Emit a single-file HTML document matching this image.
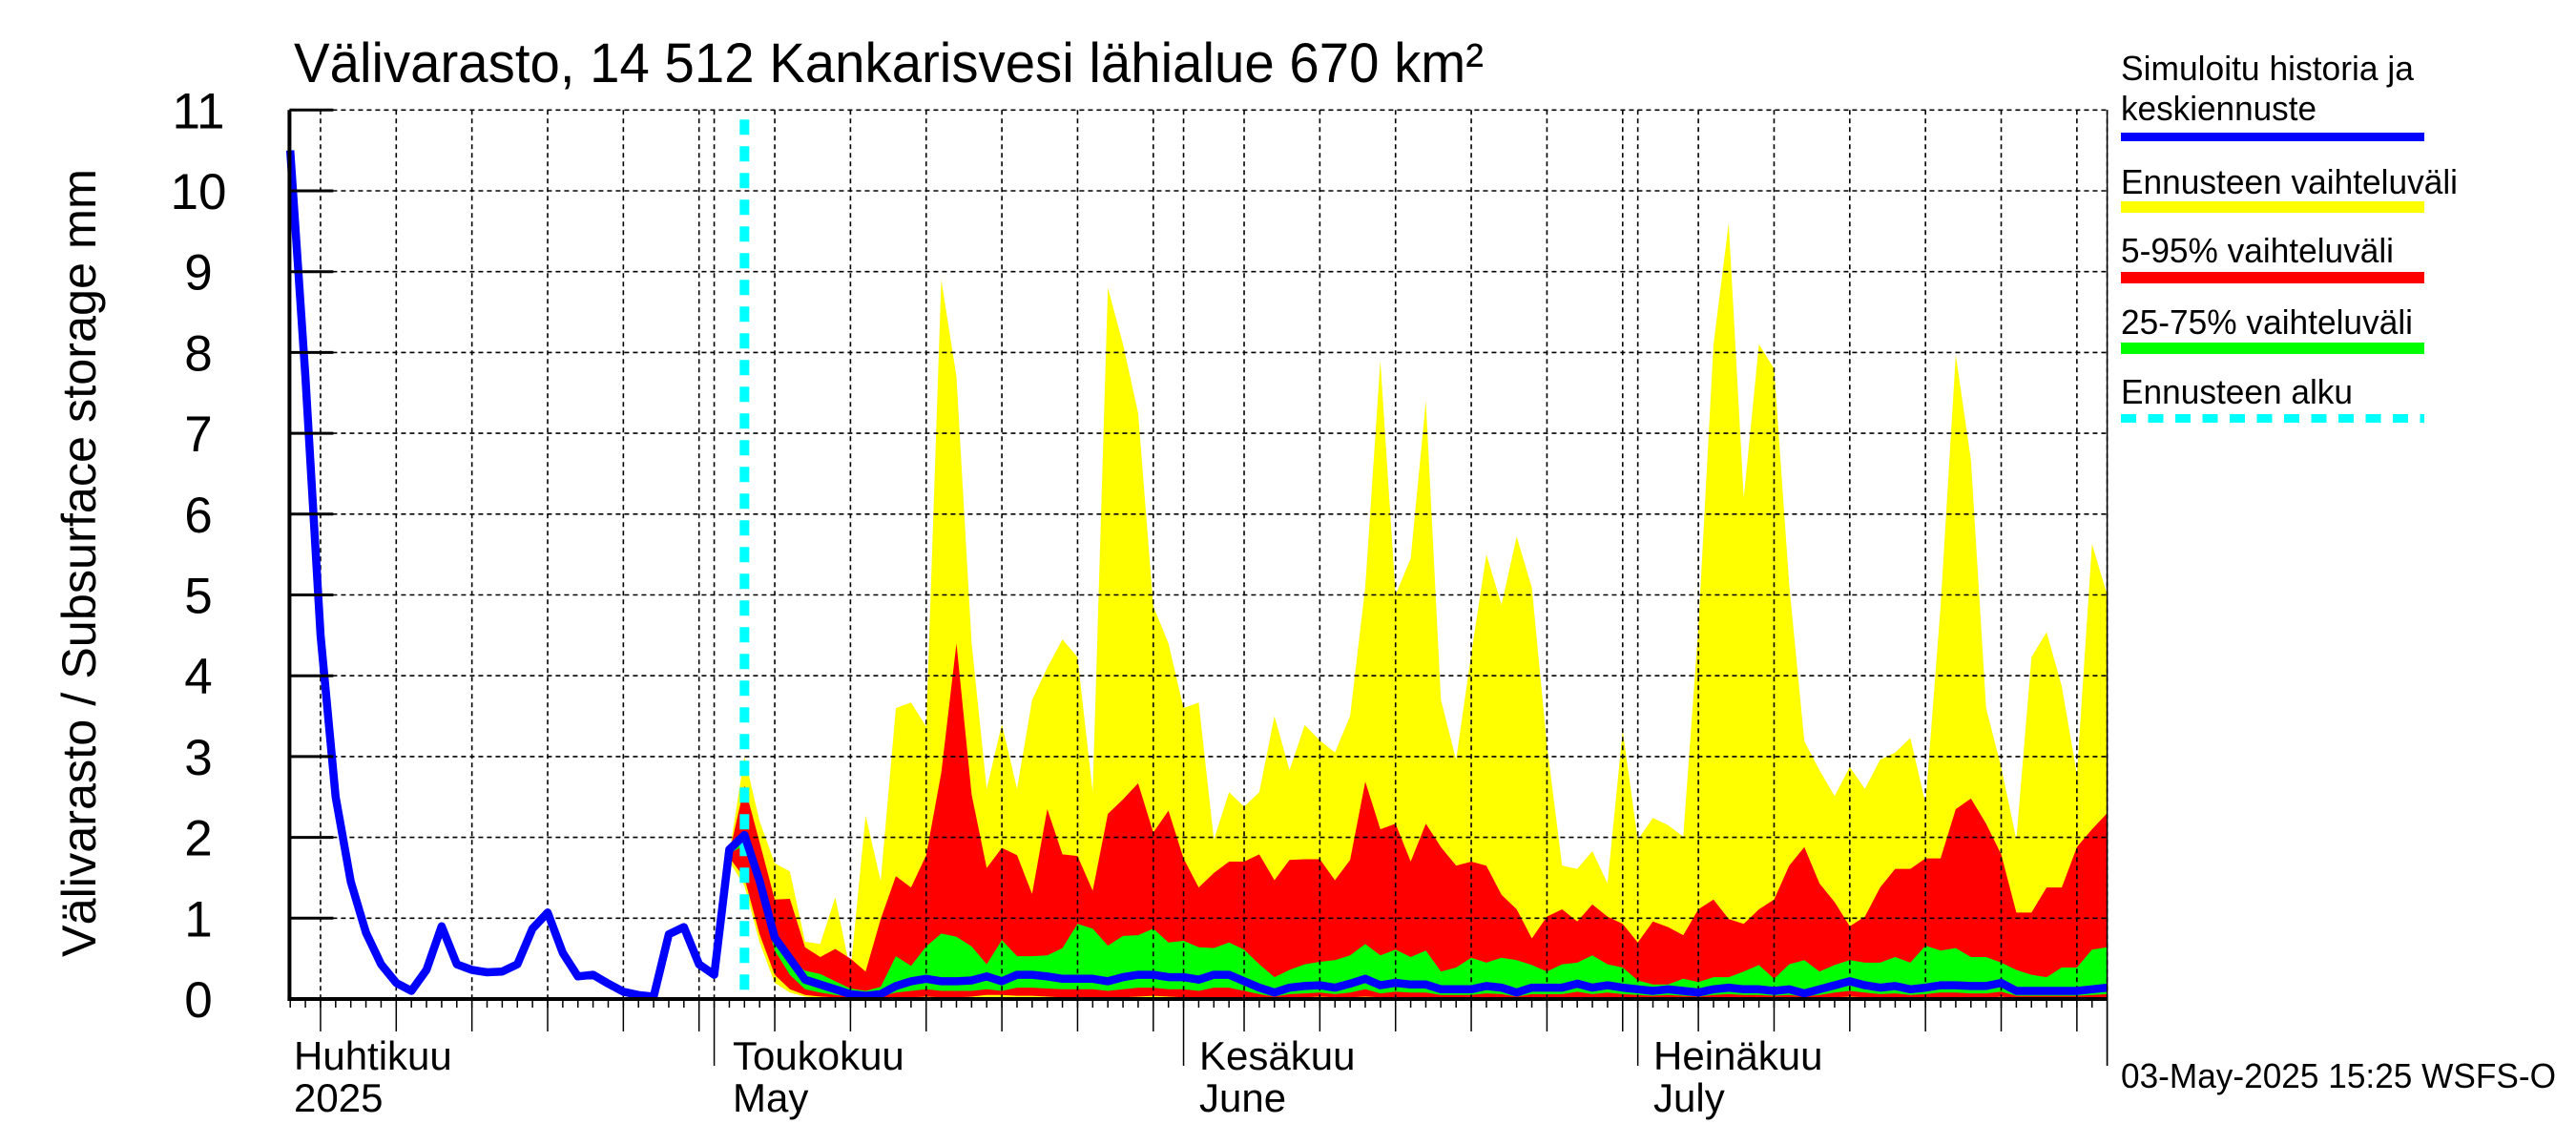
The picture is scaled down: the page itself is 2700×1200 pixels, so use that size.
<!DOCTYPE html>
<html><head><meta charset="utf-8"><title>Välivarasto</title>
<style>html,body{margin:0;padding:0;background:#fff;}svg{display:block;}</style></head>
<body>
<svg id="chart" width="2700" height="1200" viewBox="0 0 2700 1200" xmlns="http://www.w3.org/2000/svg" font-family="'Liberation Sans', Arial, sans-serif">
<rect width="2700" height="1200" fill="#fff"/>
<g id="bands"></g>
<g id="grid"></g>
<g id="lines"></g>
<g id="axes"></g>
<g id="labels"></g>
<g id="legend"></g>
</svg>
<script>
// ---- data (day index: 1 = 1 April 2025) ----
const historyStartDay = 3;
const blueValues = [10.5,7.7,4.5,2.5,1.45,0.82,0.43,0.2,0.1,0.36,0.9,0.43,0.36,0.33,0.34,0.43,0.87,1.07,0.57,0.28,0.3,0.19,0.09,0.05,0.03,0.8,0.89,0.43,0.3,1.85,
2.03,1.46,0.76,0.5,0.24,0.18,0.12,0.06,0.04,0.06,0.16,0.22,0.25,0.22,0.22,0.23,0.28,0.22,0.3,0.3,0.28,0.25,0.25,0.25,0.22,0.27,0.3,0.3,0.27,0.27,0.24,0.3,0.3,0.22,0.14,0.08,0.14,0.16,0.17,0.14,0.19,0.25,0.17,0.2,0.18,0.18,0.12,0.12,0.12,0.16,0.14,0.08,0.14,0.14,0.14,0.19,0.14,0.17,0.14,0.12,0.1,0.12,0.1,0.08,0.12,0.14,0.12,0.12,0.1,0.12,0.07,0.12,0.17,0.22,0.17,0.14,0.16,0.12,0.14,0.17,0.17,0.16,0.16,0.2,0.1,0.1,0.1,0.1,0.1,0.12,0.14];
const bandStartDay = 32;
const yellowHi = [1.8,3.0,2.2,1.68,1.58,0.71,0.68,1.26,0.34,2.27,1.46,3.6,3.67,3.37,8.9,7.7,4.4,2.6,3.4,2.6,3.7,4.1,4.45,4.23,2.56,8.8,8.1,7.25,4.86,4.4,3.6,3.67,1.97,2.56,2.38,2.56,3.5,2.83,3.39,3.2,3.05,3.5,5.1,7.9,5.0,5.45,7.4,3.7,2.96,4.27,5.5,4.88,5.72,5.09,3.14,1.65,1.61,1.83,1.43,3.32,1.97,2.24,2.15,2.01,4.59,8.1,9.6,6.2,8.1,7.8,5.13,3.19,2.83,2.51,2.87,2.6,2.96,3.05,3.23,2.42,4.86,7.97,6.67,3.6,2.87,1.97,4.23,4.54,3.87,2.78,5.63,5.0];
const yellowLo = [1.7,1.4,0.7,0.2,0.08,0.03,0.01,0,0,0,0,0,0,0,0,0,0,0,0,0,0,0,0,0,0,0,0,0,0,0,0,0,0,0,0,0,0,0,0,0,0,0,0,0,0,0,0,0,0,0,0,0,0,0,0,0,0,0,0,0,0,0,0,0,0,0,0,0,0,0,0,0,0,0,0,0,0,0,0,0,0,0,0,0,0,0,0,0,0,0,0,0];
const redHi = [1.8,2.64,1.94,1.23,1.24,0.64,0.52,0.62,0.5,0.34,0.99,1.52,1.38,1.78,2.8,4.4,2.53,1.62,1.87,1.78,1.3,2.35,1.79,1.77,1.34,2.29,2.47,2.67,2.06,2.33,1.74,1.38,1.56,1.7,1.7,1.79,1.47,1.72,1.73,1.73,1.47,1.72,2.69,2.1,2.17,1.7,2.17,1.88,1.65,1.7,1.65,1.29,1.11,0.75,1.02,1.11,0.96,1.17,1.02,0.93,0.7,0.96,0.89,0.79,1.11,1.23,0.99,0.93,1.11,1.23,1.65,1.88,1.43,1.2,0.9,1.02,1.38,1.61,1.61,1.74,1.74,2.35,2.48,2.17,1.79,1.07,1.07,1.38,1.38,1.88,2.1,2.3];
const redLo = [1.75,1.5,0.8,0.3,0.12,0.05,0.03,0.02,0.01,0.01,0.01,0.02,0.02,0.03,0.02,0.02,0.03,0.05,0.05,0.04,0.04,0.03,0.02,0.02,0.02,0.02,0.02,0.03,0.04,0.03,0.02,0.01,0.01,0.01,0.01,0.01,0.01,0.01,0.02,0.03,0.02,0.02,0.03,0.02,0.02,0.02,0.02,0.01,0.01,0.01,0.02,0.02,0.01,0.01,0.01,0.01,0.02,0.01,0.02,0.01,0.01,0.01,0.01,0.01,0.01,0.01,0.02,0.01,0.01,0.01,0.01,0.01,0.01,0.02,0.03,0.02,0.02,0.02,0.01,0.02,0.02,0.02,0.02,0.01,0.03,0.01,0.01,0.01,0.01,0.01,0.01,0.02];
const greenHi = [1.8,2.05,1.4,0.83,0.5,0.35,0.31,0.22,0.13,0.1,0.15,0.53,0.41,0.65,0.81,0.77,0.65,0.43,0.73,0.53,0.53,0.54,0.63,0.93,0.87,0.66,0.78,0.79,0.87,0.7,0.72,0.64,0.63,0.7,0.61,0.43,0.27,0.36,0.43,0.46,0.48,0.54,0.68,0.54,0.61,0.52,0.6,0.34,0.39,0.51,0.45,0.51,0.48,0.42,0.34,0.43,0.45,0.54,0.43,0.39,0.23,0.18,0.18,0.25,0.21,0.27,0.27,0.34,0.42,0.25,0.43,0.48,0.34,0.42,0.48,0.45,0.45,0.52,0.45,0.66,0.6,0.63,0.52,0.52,0.45,0.36,0.3,0.27,0.39,0.39,0.61,0.64];
const greenLo = [1.8,1.9,1.3,0.6,0.3,0.12,0.08,0.05,0.03,0.02,0.03,0.08,0.1,0.12,0.1,0.1,0.1,0.12,0.1,0.14,0.14,0.13,0.12,0.12,0.12,0.1,0.12,0.14,0.14,0.12,0.12,0.1,0.14,0.14,0.1,0.06,0.03,0.06,0.07,0.08,0.06,0.08,0.12,0.07,0.09,0.08,0.08,0.05,0.05,0.05,0.07,0.06,0.03,0.06,0.06,0.06,0.09,0.06,0.08,0.06,0.05,0.04,0.05,0.04,0.03,0.05,0.06,0.05,0.05,0.04,0.05,0.03,0.05,0.08,0.1,0.08,0.06,0.07,0.05,0.06,0.08,0.08,0.07,0.07,0.09,0.04,0.04,0.04,0.04,0.04,0.05,0.06];
const forecastStartDay = 33;
const yTicks = [0,1,2,3,4,5,6,7,8,9,10,11];
const monthStarts = [1,31,62,92,123];
const monthLabelsFi = ["Huhtikuu","Toukokuu","Kesäkuu","Heinäkuu"];
const monthLabelsEn = ["2025","May","June","July"];

// ---- axes ----
const DAY0 = 256.6, DX = 15.87;
const axisStartDay = 2.95, axisEndDay = 123;
const Y0 = 1047, DY = 84.7;
function xs(d){ return DAY0 + d*DX; }
function ys(v){ return Y0 - v*DY; }
const NS = "http://www.w3.org/2000/svg";
function mk(tag, attrs, parent){ const e=document.createElementNS(NS,tag); for(const k in attrs) e.setAttribute(k,attrs[k]); parent.appendChild(e); return e; }
const L = xs(axisStartDay), R = xs(axisEndDay), T = ys(11);

// bands
const bands = document.getElementById('bands');
function band(hi, lo, color, name){
  const pts=[];
  for(let i=0;i<hi.length;i++) pts.push(xs(bandStartDay+i).toFixed(1)+","+ys(hi[i]).toFixed(1));
  for(let i=lo.length-1;i>=0;i--) pts.push(xs(bandStartDay+i).toFixed(1)+","+ys(lo[i]).toFixed(1));
  const p = mk('polygon',{points:pts.join(' '),fill:color},bands);
  
  
}
band(yellowHi, yellowLo, '#ffff00', 'forecast-range-band');
band(redHi, redLo, '#ff0000', 'band-5-95');
band(greenHi, greenLo, '#00ff00', 'band-25-75');

// grid
const grid = document.getElementById('grid');
for(const v of yTicks){ if(v===0) continue;
  const g = mk('line',{x1:L,x2:R,y1:ys(v),y2:ys(v),stroke:'#000','stroke-width':1.6,'stroke-dasharray':'5,4'},grid);
  
  
}
for(let m=0;m<4;m++){
  for(let dd=5;dd<=30;dd+=5){
    const d = monthStarts[m]+dd-1;
    if(xs(d)<L) continue;
    const g = mk('line',{x1:xs(d),x2:xs(d),y1:T,y2:Y0,stroke:'#000','stroke-width':1.6,'stroke-dasharray':'5,4'},grid);
    
    
  }
}
for(const d of monthStarts.slice(1)){
  const g = mk('line',{x1:xs(d),x2:xs(d),y1:T,y2:Y0,stroke:'#000','stroke-width':1.6,'stroke-dasharray':'5,4'},grid);
  
  
}

// lines
const lines = document.getElementById('lines');
const fc = mk('line',{x1:xs(forecastStartDay),x2:xs(forecastStartDay),y1:T+10,y2:Y0,stroke:'#00ffff','stroke-width':10,'stroke-dasharray':'16,12'},lines);


const bp = blueValues.map((v,i)=>xs(historyStartDay+i).toFixed(1)+","+ys(v).toFixed(1)).join(' ');
const bl = mk('polyline',{points:bp,fill:'none',stroke:'#0000ff','stroke-width':8.5,'stroke-linejoin':'round'},lines);



// axes
const axes = document.getElementById('axes');
const ya = mk('line',{x1:L,x2:L,y1:T,y2:Y0+2,stroke:'#000','stroke-width':4},axes);


const xa = mk('line',{x1:L-2,x2:R,y1:Y0,y2:Y0,stroke:'#000','stroke-width':4},axes);


for(const v of yTicks){
  mk('line',{x1:L,x2:L+46,y1:ys(v),y2:ys(v),stroke:'#000','stroke-width':3},axes);
}
for(let d=3; d<=122; d++){
  mk('line',{x1:xs(d),x2:xs(d),y1:Y0,y2:Y0+9,stroke:'#000','stroke-width':1.5},axes);
}
for(let m=0;m<4;m++){
  for(let dd=5;dd<=30;dd+=5){
    const d = monthStarts[m]+dd-1;
    mk('line',{x1:xs(d),x2:xs(d),y1:Y0,y2:Y0+34,stroke:'#000','stroke-width':1.5},axes);
  }
}
for(const d of monthStarts.slice(1)){
  mk('line',{x1:xs(d),x2:xs(d),y1:Y0,y2:Y0+70,stroke:'#000','stroke-width':1.5},axes);
}
mk('line',{x1:R,x2:R,y1:T,y2:Y0+70,stroke:'#000','stroke-width':1.5},axes);

// labels
const labels = document.getElementById('labels');
for(const v of yTicks){
  const t = mk('text',{x:208,y:ys(v)+19,'font-size':53,'text-anchor':'middle',fill:'#000'},labels);
  t.textContent = String(v);
  
  
}
const labelX = [308, 768, 1257, 1733];
for(let m=0;m<4;m++){
  const a = mk('text',{x:labelX[m],y:1121,'font-size':42,fill:'#000'},labels);
  a.textContent = monthLabelsFi[m];
  
  
  const b = mk('text',{x:labelX[m],y:1165,'font-size':42,fill:'#000'},labels);
  b.textContent = monthLabelsEn[m];
  
  
}
</script>
<script>
(function(){
  const NS="http://www.w3.org/2000/svg";
  const svg=document.getElementById('chart');
  function txt(x,y,size,s,len,name,parent,extra){
    const t=document.createElementNS(NS,'text');
    t.setAttribute('x',x);t.setAttribute('y',y);t.setAttribute('font-size',size);
    if(len){t.setAttribute('textLength',len);t.setAttribute('lengthAdjust','spacingAndGlyphs');}
    if(extra) for(const k in extra) t.setAttribute(k,extra[k]);
    t.textContent=s;
    
    
    (parent||svg).appendChild(t); return t;
  }
  txt(308,86,58,'Välivarasto, 14 512 Kankarisvesi lähialue 670 km²',1247,'chart-title');
  txt(0,0,50,'Välivarasto / Subsurface storage  mm',826,'y-axis-title',null,{transform:'translate(100,590) rotate(-90)','text-anchor':'middle'});
  const lg=document.getElementById('legend');
  txt(2223,84,36,'Simuloitu historia ja',307,'legend-label-simulated',lg);
  txt(2223,126,36,'keskiennuste',205,'legend-label-simulated-2',lg);
  txt(2223,203,36,'Ennusteen vaihteluväli',353,'legend-label-range',lg);
  txt(2223,275,36,'5-95% vaihteluväli',286,'legend-label-5-95',lg);
  txt(2223,350,36,'25-75% vaihteluväli',306,'legend-label-25-75',lg);
  txt(2223,423,36,'Ennusteen alku',243,'legend-label-forecast-start',lg);
  txt(2223,1140,36,'03-May-2025 15:25 WSFS-O',456,'timestamp-footer');
  function sw(y,h,color,name,dash){
    const l=document.createElementNS(NS,'line');
    l.setAttribute('x1',2223);l.setAttribute('x2',2541);l.setAttribute('y1',y);l.setAttribute('y2',y);
    l.setAttribute('stroke',color);l.setAttribute('stroke-width',h);
    if(dash) l.setAttribute('stroke-dasharray',dash);
    
    
    lg.appendChild(l);
  }
  sw(143.5,9,'#0000ff','legend-swatch-simulated');
  sw(217,12,'#ffff00','legend-swatch-range');
  sw(291,12,'#ff0000','legend-swatch-5-95');
  sw(365,12,'#00ff00','legend-swatch-25-75');
  sw(438.5,9,'#00ffff','legend-swatch-forecast-start','16,12.5');
})();
</script>
</body></html>
